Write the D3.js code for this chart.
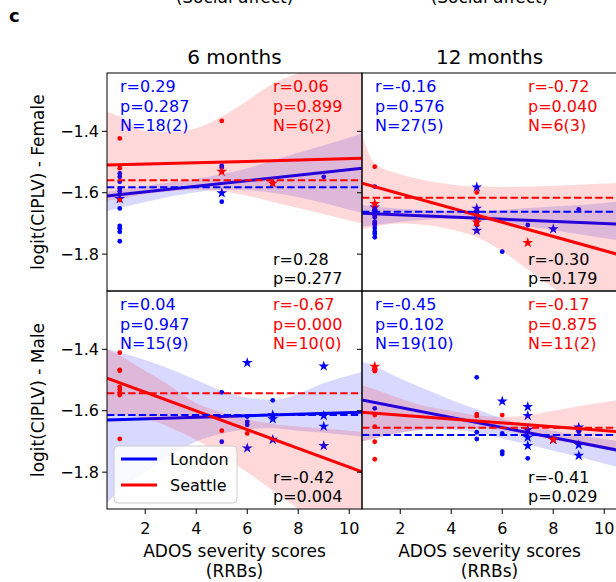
<!DOCTYPE html>
<html>
<head>
<meta charset="utf-8">
<script src="https://cdn.jsdelivr.net/npm/d3@7"></script>
<style>
  body { margin: 0; background: #fff; }
  text { font-family: "DejaVu Sans", sans-serif; }
</style>
</head>
<body>
<div id="chart"></div>
<script>
// panel order: 0 = Female 6 months, 1 = Female 12 months, 2 = Male 6 months, 3 = Male 12 months
const cities = ["London", "Seattle"];
const ages = ["6 months", "12 months"];
const sexes = ["Female", "Male"];
const xTicks = [2, 4, 6, 8, 10];
const yTicks = [-1.4, -1.6, -1.8];

// [x, y, star]
const londonPts = [
  [[1,-1.537],[1,-1.548],[1,-1.564],[1,-1.586],[1,-1.595],[1,-1.605],[1,-1.618,1],[1,-1.651],[1,-1.708],
   [1,-1.716],[1,-1.727],[1,-1.758],[5,-1.512],[5,-1.518],[5,-1.599,1],[5,-1.629],[7,-1.567],[9,-1.548]],
  [[1,-1.580],[1,-1.645,1],[1,-1.656],[1,-1.662],[1,-1.668],[1,-1.673],[1,-1.680],[1,-1.694],[1,-1.700],
   [1,-1.705],[1,-1.715],[1,-1.727],[1,-1.734],[1,-1.745],[5,-1.580,1],[5,-1.649,1],[5,-1.721,1],[5,-1.660],
   [5,-1.670],[5,-1.678],[5,-1.689],[5,-1.696],[5,-1.705],[6,-1.792],[7,-1.705],[8,-1.716,1],[9,-1.654]],
  [[5,-1.540],[5,-1.701],[6,-1.442,1],[6,-1.619],[6,-1.636],[6,-1.646],[6,-1.720,1],[7,-1.566],[7,-1.625,1],
   [7,-1.692,1],[7,-1.612,1],[9,-1.453,1],[9,-1.614,1],[9,-1.649,1],[9,-1.712,1]],
  [[1,-1.592],[5,-1.491],[5,-1.670],[5,-1.692],[6,-1.567,1],[6,-1.674],[6,-1.733],[6,-1.741],[7,-1.585,1],
   [7,-1.614,1],[7,-1.660,1],[7,-1.685,1],[7,-1.712,1],[7,-1.755],[8,-1.692,1],[9,-1.652,1],[9,-1.668],
   [9,-1.709,1],[9,-1.744,1]]
];
const seattlePts = [
  [[1,-1.423],[1,-1.520],[1,-1.624],[5,-1.366],[5,-1.529,1],[7,-1.567,1]],
  [[1,-1.515],[1,-1.634,1],[5,-1.599],[5,-1.694,1],[5,-1.702],[7,-1.761,1]],
  [[1,-1.411],[1,-1.467],[1,-1.522],[1,-1.549],[1,-1.692],[1,-1.530],[1,-1.540],[1,-1.470],[5,-1.665],[6,-1.674]],
  [[1,-1.454,1],[1,-1.462],[1,-1.471],[1,-1.614],[1,-1.652],[1,-1.701],[1,-1.758],[5,-1.611],[5,-1.617],[6,-1.614],[8,-1.692,1]]
];

// regression line values at x = 0.5 and x = 10.5
const londonFit = [[-1.611,-1.520],[-1.667,-1.702],[-1.630,-1.605],[-1.565,-1.728]];
const seattleFit = [[-1.510,-1.488],[-1.569,-1.800],[-1.494,-1.799],[-1.605,-1.668]];
const londonMean = [-1.582,-1.662,-1.614,-1.679];
const seattleMean = [-1.559,-1.616,-1.543,-1.655];

// confidence bands
const bandX = [0.5, 1, 2, 3, 4, 5, 6, 7, 8, 9, 10, 10.5];
const londonHi = [
  [-1.597,-1.590,-1.578,-1.566,-1.555,-1.540,-1.520,-1.495,-1.470,-1.445,-1.420,-1.406],
  [-1.640,-1.645,-1.652,-1.657,-1.660,-1.660,-1.656,-1.650,-1.645,-1.640,-1.633,-1.629],
  [-1.400,-1.410,-1.435,-1.465,-1.500,-1.535,-1.558,-1.565,-1.545,-1.510,-1.485,-1.473],
  [-1.440,-1.455,-1.495,-1.530,-1.565,-1.595,-1.625,-1.648,-1.665,-1.680,-1.692,-1.698]
];
const londonLo = [
  [-1.660,-1.650,-1.630,-1.612,-1.598,-1.590,-1.592,-1.600,-1.615,-1.633,-1.655,-1.665],
  [-1.711,-1.705,-1.695,-1.688,-1.685,-1.688,-1.698,-1.710,-1.722,-1.735,-1.748,-1.754],
  [-1.900,-1.860,-1.800,-1.745,-1.700,-1.675,-1.660,-1.657,-1.665,-1.672,-1.680,-1.685],
  [-1.700,-1.690,-1.672,-1.662,-1.662,-1.672,-1.690,-1.710,-1.730,-1.750,-1.772,-1.782]
];
const seattleHi = [
  [-1.336,-1.352,-1.400,-1.402,-1.390,-1.352,-1.300,-1.245,-1.210,-1.180,-1.150,-1.130],
  [-1.412,-1.505,-1.540,-1.560,-1.573,-1.580,-1.581,-1.580,-1.577,-1.574,-1.570,-1.569],
  [-1.400,-1.420,-1.470,-1.520,-1.575,-1.605,-1.628,-1.643,-1.651,-1.658,-1.665,-1.668],
  [-1.516,-1.530,-1.560,-1.585,-1.600,-1.615,-1.620,-1.615,-1.600,-1.585,-1.572,-1.565]
];
const seattleLo = [
  [-1.625,-1.620,-1.605,-1.595,-1.590,-1.595,-1.610,-1.630,-1.650,-1.670,-1.690,-1.700],
  [-1.720,-1.710,-1.700,-1.705,-1.720,-1.745,-1.790,-1.850,-1.910,-1.970,-2.030,-2.060],
  [-1.620,-1.615,-1.625,-1.655,-1.695,-1.745,-1.800,-1.860,-1.920,-1.980,-2.040,-2.070],
  [-1.700,-1.690,-1.672,-1.660,-1.655,-1.657,-1.665,-1.680,-1.695,-1.710,-1.725,-1.733]
];

const londonStats = [
  ["r=0.29","p=0.287","N=18(2)"], ["r=-0.16","p=0.576","N=27(5)"],
  ["r=0.04","p=0.947","N=15(9)"], ["r=-0.45","p=0.102","N=19(10)"]
];
const seattleStats = [
  ["r=0.06","p=0.899","N=6(2)"], ["r=-0.72","p=0.040","N=6(3)"],
  ["r=-0.67","p=0.000","N=10(0)"], ["r=-0.17","p=0.875","N=11(2)"]
];
const allStats = [["r=0.28","p=0.277"],["r=-0.30","p=0.179"],["r=-0.42","p=0.004"],["r=-0.41","p=0.029"]];

const colors = { London: "#0000ff", Seattle: "#ff0000" };
const colX = [107, 362], rowY = [73, 291];
const pw = 255, ph = 218;

const svg = d3.select("#chart").append("svg")
  .attr("width", 616).attr("height", 582);

const x = d3.scaleLinear().domain([0.5, 10.5]).range([0, pw]);
const y = d3.scaleLinear().domain([-1.92, -1.21]).range([ph, 0]);

const star = d3.symbol().type(d3.symbolStar).size(36);

// top cut-off labels from the panel above, and panel letter
ages.forEach((a, c) => {
  svg.append("text").attr("x", colX[c] + pw / 2).attr("y", 3)
    .attr("text-anchor", "middle").attr("font-size", 17).text("(Social affect)");
});
svg.append("text").attr("x", 9).attr("y", 22).attr("font-size", 18)
  .attr("font-weight", "bold").text("c");

for (let p = 0; p < 4; p++) {
  const row = Math.floor(p / 2), col = p % 2;
  const g = svg.append("g").attr("transform", `translate(${colX[col]},${rowY[row]})`);

  g.append("clipPath").attr("id", "clip" + p)
    .append("rect").attr("width", pw).attr("height", ph);
  const plot = g.append("g").attr("clip-path", `url(#clip${p})`);

  const groups = [
    { name: "London", pts: londonPts[p], fit: londonFit[p], mean: londonMean[p], hi: londonHi[p], lo: londonLo[p] },
    { name: "Seattle", pts: seattlePts[p], fit: seattleFit[p], mean: seattleMean[p], hi: seattleHi[p], lo: seattleLo[p] }
  ];

  groups.forEach(gr => {
    const col = colors[gr.name];
    // confidence band
    const area = d3.area()
      .x((d, i) => x(bandX[i]))
      .y0((d, i) => y(gr.lo[i]))
      .y1((d, i) => y(gr.hi[i]))
      .curve(d3.curveMonotoneX);
    plot.append("path").datum(bandX).attr("d", area)
      .attr("fill", col).attr("fill-opacity", 0.15);

    // points
    plot.selectAll(null).data(gr.pts.filter(d => !d[2])).enter()
      .append("circle")
      .attr("cx", d => x(d[0])).attr("cy", d => y(d[1]))
      .attr("r", 2.4).attr("fill", col);
    plot.selectAll(null).data(gr.pts.filter(d => d[2])).enter()
      .append("path")
      .attr("d", star)
      .attr("transform", d => `translate(${x(d[0])},${y(d[1]) + 0.6})`)
      .attr("fill", col);

    // regression line
    plot.append("line")
      .attr("x1", x(0.5)).attr("x2", x(10.5))
      .attr("y1", y(gr.fit[0])).attr("y2", y(gr.fit[1]))
      .attr("stroke", col).attr("stroke-width", 3);
  });

  groups.forEach(gr => {
    plot.append("line")
      .attr("x1", x(0.5)).attr("x2", x(10.5))
      .attr("y1", y(gr.mean)).attr("y2", y(gr.mean))
      .attr("stroke", colors[gr.name]).attr("stroke-width", 2)
      .attr("stroke-dasharray", "7.4,3.2");
  });

  // frame
  g.append("rect").attr("width", pw).attr("height", ph)
    .attr("fill", "none").attr("stroke", "#000").attr("stroke-width", 1);

  // y ticks
  yTicks.forEach(t => {
    g.append("line").attr("x1", -5).attr("x2", 0)
      .attr("y1", y(t)).attr("y2", y(t)).attr("stroke", "#000");
    if (col === 0) {
      g.append("text").attr("x", -8).attr("y", y(t)).attr("dy", "0.35em")
        .attr("text-anchor", "end").attr("font-size", 16)
        .text("\u2212" + Math.abs(t).toFixed(1));
    }
  });

  // x ticks (bottom row)
  if (row === 1) {
    xTicks.forEach(t => {
      g.append("line").attr("x1", x(t)).attr("x2", x(t))
        .attr("y1", ph).attr("y2", ph + 5).attr("stroke", "#000");
      g.append("text").attr("x", x(t)).attr("y", ph + 25)
        .attr("text-anchor", "middle").attr("font-size", 16).text(t);
    });
    g.append("text").attr("x", pw / 2).attr("y", ph + 48)
      .attr("text-anchor", "middle").attr("font-size", 17).text("ADOS severity scores");
    g.append("text").attr("x", pw / 2).attr("y", ph + 68)
      .attr("text-anchor", "middle").attr("font-size", 17).text("(RRBs)");
  }
  if (row === 0) {
    g.append("text").attr("x", pw / 2).attr("y", -9)
      .attr("text-anchor", "middle").attr("font-size", 20).text(ages[col]);
  }
  if (col === 0) {
    g.append("text")
      .attr("transform", `translate(-63,${ph / 2}) rotate(-90)`)
      .attr("text-anchor", "middle").attr("font-size", 17)
      .text("logit(CIPLV) - " + sexes[row]);
  }

  // stats text
  [19, 38.5, 58].forEach((dy, i) => {
    g.append("text").attr("x", 13).attr("y", dy).attr("font-size", 16)
      .attr("fill", colors.London).text(londonStats[p][i]);
    g.append("text").attr("x", 166).attr("y", dy).attr("font-size", 16)
      .attr("fill", colors.Seattle).text(seattleStats[p][i]);
  });
  [ph - 26, ph - 7].forEach((dy, i) => {
    g.append("text").attr("x", 166).attr("y", dy).attr("font-size", 16)
      .attr("fill", "#000").text(allStats[p][i]);
  });

  // legend
  if (p === 2) {
    const lg = g.append("g").attr("transform", `translate(7,${155})`);
    lg.append("rect").attr("width", 123).attr("height", 57).attr("rx", 4)
      .attr("fill", "#fff").attr("fill-opacity", 0.8)
      .attr("stroke", "#cccccc").attr("stroke-width", 1);
    cities.forEach((c, i) => {
      lg.append("line").attr("x1", 7).attr("x2", 43)
        .attr("y1", 13 + i * 26).attr("y2", 13 + i * 26)
        .attr("stroke", colors[c]).attr("stroke-width", 3);
      lg.append("text").attr("x", 56).attr("y", 19 + i * 26)
        .attr("font-size", 16).text(c);
    });
  }
}
</script>
</body>
</html>
